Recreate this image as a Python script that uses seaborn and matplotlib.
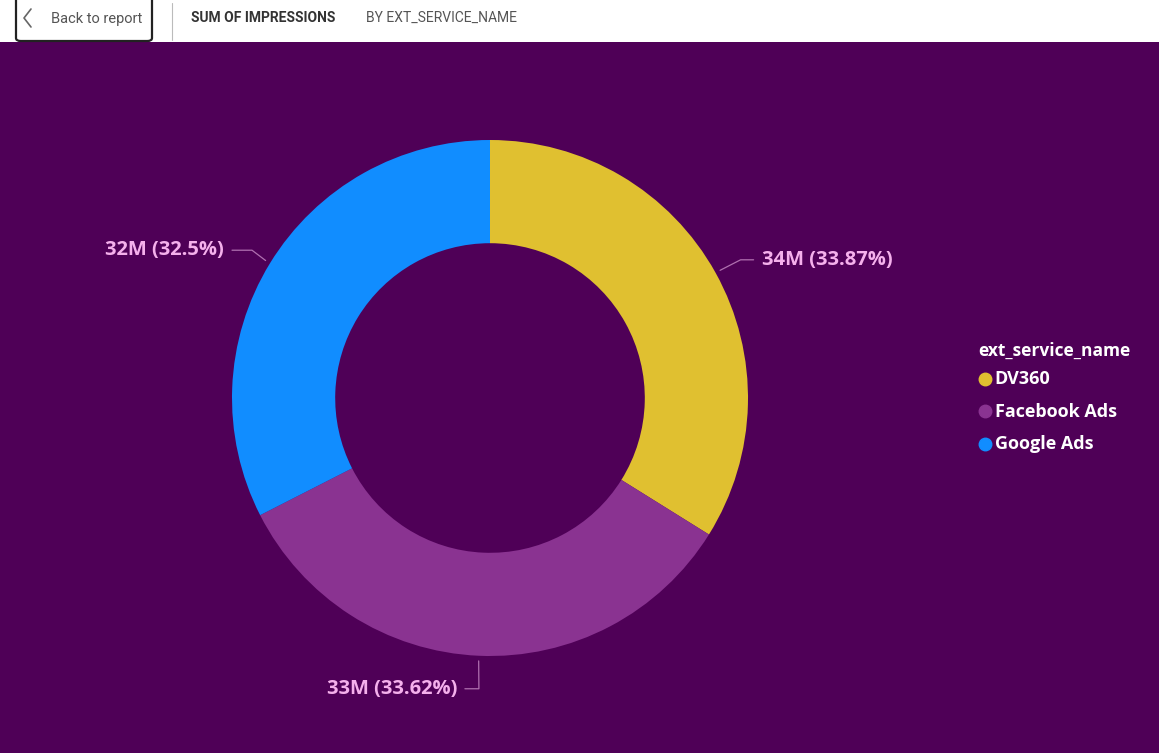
import numpy as np
import matplotlib
matplotlib.use("Agg")
import matplotlib.pyplot as plt
from matplotlib.lines import Line2D
from matplotlib.patches import FancyBboxPatch
import seaborn as sns

# dados
services = ["DV360", "Facebook Ads", "Google Ads"]
impressions_m = [34, 33, 32]
percents = [33.87, 33.62, 32.5]
colors = ["#E0C030", "#8A3391", "#118DFF"]

sns.set_theme(style="white")
plt.rcParams["font.family"] = ["Open Sans", "DejaVu Sans"]

bg = "#4F0057"
label_col = "#F5B0EC"

fig = plt.figure(figsize=(11.59, 7.53), dpi=100)
fig.patch.set_facecolor(bg)
W, H = 1159, 753

# faixa branca do topo
fig.add_artist(plt.Rectangle((0, 1 - 42 / H), 1, 42 / H, transform=fig.transFigure,
                             facecolor="white", edgecolor="none", zorder=0))
fig.add_artist(FancyBboxPatch((16 / W, 1 - 41 / H), 136 / W, 50 / H,
                              boxstyle="round,pad=0,rounding_size=0.004",
                              transform=fig.transFigure, facecolor="white",
                              edgecolor="#222222", linewidth=1.6, zorder=1))
fig.add_artist(Line2D([31 / W, 24 / W, 31 / W], [1 - 9 / H, 1 - 18 / H, 1 - 27 / H],
                      transform=fig.transFigure, color="#666666", linewidth=1.2, zorder=2))
fig.text(51 / W, 1 - 19 / H, "Back to report", fontsize=10.5, color="#555555",
         va="center", ha="left", family=["Roboto", "DejaVu Sans"], zorder=2)
fig.add_artist(Line2D([172 / W, 172 / W], [1 - 3 / H, 1 - 40 / H],
                      transform=fig.transFigure, color="#BBBBBB", linewidth=0.8))
fig.text(191 / W, 1 - 18 / H, "SUM OF IMPRESSIONS", fontsize=10, color="#333333",
         weight="bold", va="center", ha="left", family=["Roboto", "DejaVu Sans"])
fig.text(366 / W, 1 - 18 / H, "BY EXT_SERVICE_NAME", fontsize=10, color="#555555",
         va="center", ha="left", family=["Roboto", "DejaVu Sans"])

# rosca
cx, cy, r = 490, 398, 258
ax = fig.add_axes([(cx - r) / W, (H - cy - r) / H, 2 * r / W, 2 * r / H])
ax.set_facecolor(bg)
wedges, _ = ax.pie(percents, colors=colors, startangle=90, counterclock=False,
                   radius=1, wedgeprops=dict(width=0.4, edgecolor="none"))
ax.set_xlim(-1, 1)
ax.set_ylim(-1, 1)
ax.set_aspect("equal")
ax.axis("off")

# rotulos com linhas guia (deslocamentos em pixels)
offsets = [
    ((25, 13), (38, 13), "left"),
    ((0, -33), (-14, -33), "right"),
    ((-18, 13), (-38, 13), "right"),
]
for w, m, p, (elbow, end, ha) in zip(wedges, impressions_m, percents, offsets):
    ang = np.deg2rad((w.theta1 + w.theta2) / 2)
    x0, y0 = np.cos(ang) * 1.0, np.sin(ang) * 1.0
    px, py = x0 * r, y0 * r
    ex, ey = (px + elbow[0]) / r, (py + elbow[1]) / r
    tx, ty = (px + end[0]) / r, (py + end[1]) / r
    ax.plot([x0 * 1.02, ex, tx], [y0 * 1.02, ey, ty], color="#B070B0",
            linewidth=0.9, clip_on=False)
    gap = 8 / r if ha == "left" else -8 / r
    ax.text(tx + gap, ty, f"{m}M ({p}%)", color=label_col, fontsize=14.5,
            weight="bold", ha=ha, va="center", clip_on=False)

# legenda
fig.text(978 / W, 1 - 351 / H, "ext_service_name", color="white", fontsize=12.5,
         weight="bold", ha="left", va="center")
handles = [Line2D([0], [0], marker="o", linestyle="none", markersize=9,
                  markerfacecolor=c, markeredgecolor=c) for c in colors]
leg = fig.legend(handles, services, loc="upper left",
                 bbox_to_anchor=(968 / W, 1 - 361 / H), frameon=False,
                 borderpad=0.1, handletextpad=0.15, labelspacing=0.95,
                 handlelength=1.0)
for t in leg.get_texts():
    t.set_color("white")
    t.set_fontsize(13)
    t.set_fontweight("bold")

fig.savefig("out.png", dpi=100, facecolor=bg)
